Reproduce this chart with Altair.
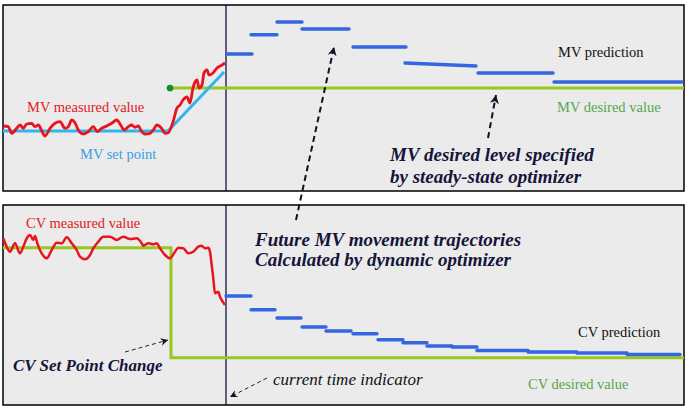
import math
import altair as alt
import pandas as pd

# ---------------- data (diagram units: t = time position, v = level position) -------------
panel_t0 = [3, 3]
panel_t1 = [684, 684]
panel_v0 = [5, 205]
panel_v1 = [191, 405]

now_t = [226, 226]
now_v0 = [5, 205]
now_v1 = [191, 405]

mv_meas_t = [3.3, 8.3, 11.7, 16.7, 20, 23.3, 26.7, 31.7, 35, 38.3, 41.7, 45, 50, 55, 60, 65,
             68.3, 71.7, 75, 78.3, 83.3, 88.3, 93.3, 97.3, 101.7, 106.7, 111.7, 116.7, 120.7,
             124, 128.3, 131.7, 135, 138.3, 141.7, 145, 150, 153.3, 156.7, 161.7, 165, 168,
             173, 177, 180, 183, 187, 190, 193, 195, 197, 199, 202, 204, 207, 209, 213, 217,
             222, 225]
mv_meas_v = [126, 126.7, 133.3, 128.3, 125, 128.3, 124, 123.3, 126.7, 125, 130.7, 136, 128.3,
             123.3, 121.7, 128.3, 126.7, 120, 122.7, 130, 134, 131.7, 126.7, 131.7, 128.3, 126,
             123.3, 120, 125, 130, 126.7, 125, 127.3, 126, 131.7, 134, 133.3, 130, 125, 128.3,
             133.3, 133, 122, 108, 105, 100, 97, 103, 88, 82, 80, 88, 85, 73, 70, 75, 73, 68,
             65, 63]

mv_sp_t = [3, 168, 224]
mv_sp_v = [131, 131, 72]

mv_des_t = [170, 684]
mv_des_v = [88, 88]

mv_pred_t0 = [227, 251, 277, 302, 353, 405, 478, 554]
mv_pred_t1 = [252, 277, 302, 349, 406, 476, 553, 682]
mv_pred_v0 = [54, 34.7, 22, 29, 47, 63, 73, 82]
mv_pred_v1 = [54, 34.7, 22, 29, 47, 66, 73, 82]

cv_meas_t = [3.3, 6.7, 10, 15, 20, 23.3, 26.7, 30, 33.3, 35, 37.3, 41.7, 46.7, 51.7, 56.7,
             61.7, 66.7, 71.7, 76.7, 80, 85, 90, 93.3, 98.3, 103.3, 110, 116.7, 123.3, 130,
             136.7, 141.7, 143.3, 148.3, 153.3, 156.7, 160, 165, 170, 175, 178.3, 183.3,
             188.3, 193.3, 198.3, 201.7, 205, 208.3, 210, 211.7, 213.3, 215, 218.3, 220,
             222.7, 225]
cv_meas_v = [238.3, 246.7, 251.7, 243.3, 253.3, 246.7, 238.3, 235, 240, 236, 243.3, 253.3,
             258.3, 250, 242.7, 243.3, 237.3, 243.3, 250, 256.7, 259.3, 255, 248.3, 241.7,
             236.7, 236.7, 240, 236.7, 239, 238.3, 243.3, 245.7, 243.3, 244.3, 243.3, 248.3,
             255, 258.3, 251.7, 247.7, 248.3, 253.3, 251.7, 246.7, 245.7, 248.3, 247.7, 251.7,
             265, 278.3, 293.3, 291.7, 296.7, 301.7, 305]

cv_sp_t = [3, 171, 171, 684]
cv_sp_v = [247.7, 247.7, 357.7, 357.7]

cv_pred_t0 = [226, 251, 277, 302, 326, 353, 378, 403, 427, 452, 477, 528, 577, 627]
cv_pred_t1 = [251, 275, 301, 326, 351, 377, 403, 427, 452, 477, 528, 577, 627, 680]
cv_pred_v = [296, 309.7, 318, 327, 331, 333.7, 339.7, 342.7, 346, 347, 350.5, 352, 353, 354.5]

label_text = ["MV measured value", "MV set point", "MV prediction", "MV desired value",
              "CV measured value", "CV prediction", "CV desired value"]
label_t = [27, 80, 558, 557, 26, 578, 528]
label_v = [108, 155, 53, 108, 224, 333, 385]
label_color = ["#e0201c", "#3a9fe0", "#111111", "#55a84a", "#e0201c", "#111111", "#55a84a"]

note_text = ["MV desired level specified", "by steady-state optimizer",
             "Future MV movement trajectories", "Calculated by dynamic optimizer",
             "CV Set Point Change"]
note_t = [390, 390, 255, 255, 13]
note_v = [155, 177, 240, 260, 366]
note_size = [19, 19, 19, 19, 17]

ct_text = ["current time indicator"]
ct_t = [273]
ct_v = [380]

arrow_t0 = [296, 488, 125, 267]
arrow_v0 = [220, 138, 352, 378]
arrow_t1 = [334, 496, 168, 230]
arrow_v1 = [47, 95, 340, 397]
arrow_kind = ["bold", "bold", "thin", "thin"]

SERIF = "Liberation Serif"

# ---------------- scales ----------------
W, H = 690, 412
xs = alt.Scale(domain=[0, W], nice=False, zero=False)
ys = alt.Scale(domain=[0, H], nice=False, zero=False, reverse=True)


def X(f="t"):
    return alt.X(f"{f}:Q", scale=xs, axis=None)


def Y(f="v"):
    return alt.Y(f"{f}:Q", scale=ys, axis=None)


panels = pd.DataFrame({"t": panel_t0, "t2": panel_t1, "v": panel_v0, "v2": panel_v1})
panel_layer = alt.Chart(panels).mark_rect(fill="#ebebeb", stroke="#000000", strokeWidth=1.5).encode(
    x=X(), x2="t2:Q", y=Y(), y2="v2:Q")

now_df = pd.DataFrame({"t": now_t, "v": now_v0, "v2": now_v1})
now_layer = alt.Chart(now_df).mark_rule(color="#000033", strokeWidth=1.2).encode(
    x=X(), y=Y(), y2="v2:Q")


def line(ts, vs, **kw):
    df = pd.DataFrame({"t": ts, "v": vs, "i": range(len(ts))})
    return alt.Chart(df).mark_line(**kw).encode(x=X(), y=Y(), order="i:Q")


mv_des_layer = line(mv_des_t, mv_des_v, color="#96c81e", strokeWidth=3)
cv_sp_layer = line(cv_sp_t, cv_sp_v, color="#96c81e", strokeWidth=3, strokeJoin="miter")
mv_sp_layer = line(mv_sp_t, mv_sp_v, color="#33b4ec", strokeWidth=3)
mv_meas_layer = line(mv_meas_t, mv_meas_v, color="#e8141e", strokeWidth=2.8, interpolate="monotone")
cv_meas_layer = line(cv_meas_t, cv_meas_v, color="#e8141e", strokeWidth=2.5, interpolate="monotone")

mv_pred = pd.DataFrame({"t": mv_pred_t0, "t2": mv_pred_t1, "v": mv_pred_v0, "v2": mv_pred_v1})
mv_pred_layer = alt.Chart(mv_pred).mark_rule(color="#3366e0", strokeWidth=3.4, strokeCap="round").encode(
    x=X(), x2="t2:Q", y=Y(), y2="v2:Q")

cv_pred = pd.DataFrame({"t": cv_pred_t0, "t2": cv_pred_t1, "v": cv_pred_v, "v2": cv_pred_v})
cv_pred_layer = alt.Chart(cv_pred).mark_rule(color="#3366e0", strokeWidth=3.4, strokeCap="round").encode(
    x=X(), x2="t2:Q", y=Y(), y2="v2:Q")

dot_df = pd.DataFrame({"t": [mv_des_t[0]], "v": [mv_des_v[0]]})
dot_layer = alt.Chart(dot_df).mark_circle(color="#1a8c2a", opacity=1, size=45).encode(x=X(), y=Y())

# arrows
ang = [math.degrees(math.atan2(a1 - a0, -(b1 - b0))) % 360
       for a0, b0, a1, b1 in zip(arrow_t0, arrow_v0, arrow_t1, arrow_v1)]
arrows = pd.DataFrame({"t": arrow_t0, "v": arrow_v0, "t2": arrow_t1, "v2": arrow_v1,
                       "kind": arrow_kind, "ang": ang})
bold_arrows = arrows[arrows.kind == "bold"]
thin_arrows = arrows[arrows.kind == "thin"]
arrow_bold_layer = alt.Chart(bold_arrows).mark_rule(color="#111122", strokeWidth=2, strokeDash=[6, 4]).encode(
    x=X(), x2="t2:Q", y=Y(), y2="v2:Q")
arrow_thin_layer = alt.Chart(thin_arrows).mark_rule(color="#222233", strokeWidth=1, strokeDash=[4, 3]).encode(
    x=X(), x2="t2:Q", y=Y(), y2="v2:Q")
head_shape = "M0,0 L0.8,1.55 L0,1.05 L-0.8,1.55 Z"
head_bold = alt.Chart(bold_arrows).mark_point(shape=head_shape, filled=True, color="#111122",
                                              opacity=1, size=130, strokeWidth=0).encode(
    x=X("t2"), y=Y("v2"), angle=alt.Angle("ang:Q", scale=None))
head_thin = alt.Chart(thin_arrows).mark_point(shape=head_shape, filled=True, color="#111122",
                                              opacity=1, size=90, strokeWidth=0).encode(
    x=X("t2"), y=Y("v2"), angle=alt.Angle("ang:Q", scale=None))

labels = pd.DataFrame({"t": label_t, "v": label_v, "txt": label_text, "c": label_color})
label_layer = alt.Chart(labels).mark_text(font=SERIF, fontSize=14.5, align="left",
                                          baseline="middle").encode(
    x=X(), y=Y(), text="txt:N", color=alt.Color("c:N", scale=None))

notes = pd.DataFrame({"t": note_t, "v": note_v, "txt": note_text, "s": note_size})
note_layer = alt.Chart(notes).mark_text(font=SERIF, fontWeight="bold",
                                        fontStyle="italic", align="left", baseline="middle",
                                        color="#15153a").encode(
    x=X(), y=Y(), text="txt:N", size=alt.Size("s:Q", scale=None))

ct = pd.DataFrame({"t": ct_t, "v": ct_v, "txt": ct_text})
ct_layer = alt.Chart(ct).mark_text(font=SERIF, fontSize=17, fontStyle="italic",
                                   align="left", baseline="middle", color="#111111").encode(
    x=X(), y=Y(), text="txt:N")

chart = alt.layer(
    panel_layer, now_layer, mv_des_layer, cv_sp_layer, mv_sp_layer,
    mv_pred_layer, cv_pred_layer, mv_meas_layer, cv_meas_layer, dot_layer,
    arrow_bold_layer, arrow_thin_layer, head_bold, head_thin,
    label_layer, note_layer, ct_layer,
).properties(
    width=W, height=H, autosize=alt.AutoSizeParams(type="none"), padding=0, background="white"
).configure_view(stroke=None)

chart.save("out.html", embed_options={"renderer": "svg", "actions": False})
